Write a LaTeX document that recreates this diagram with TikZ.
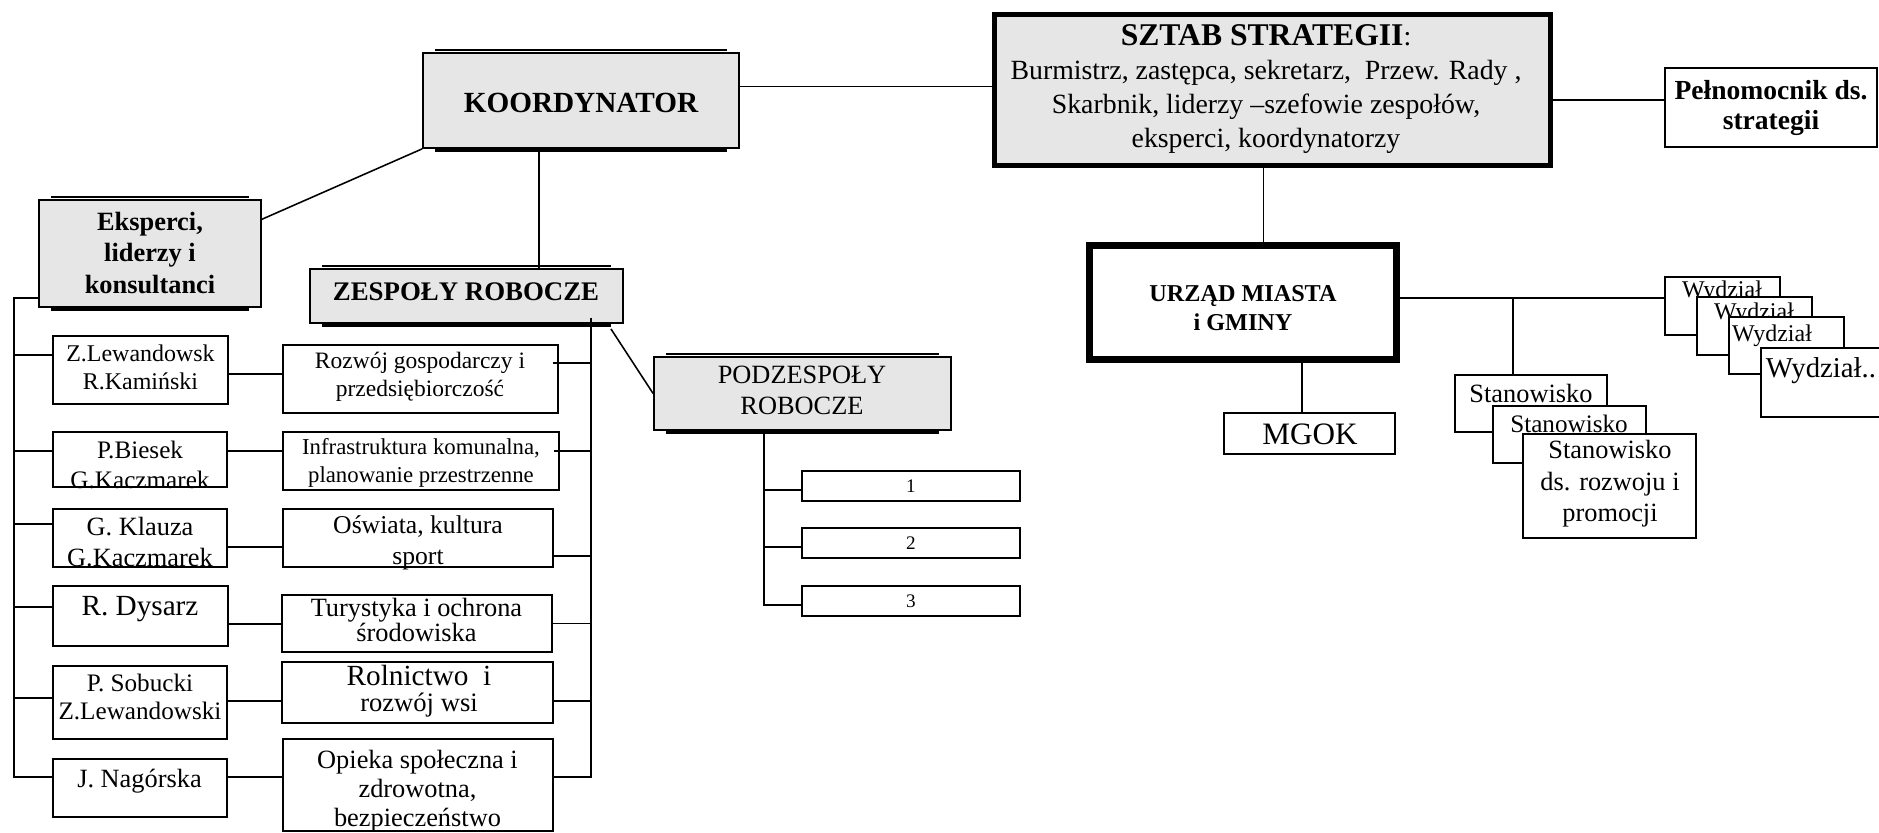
\documentclass[tikz,border=0pt]{standalone}
\usepackage{fontspec}
\setmainfont{Liberation Serif}
\usetikzlibrary{fit,calc}
\definecolor{boxgray}{RGB}{230,230,230}
\newcommand\fsz[2]{\fontsize{#1}{#2}\selectfont}
% raised edge above and heavy edge below a shaded box
\newcommand\bevelbox[1]{%
  \draw[line width=0.5pt] ([shift={(13,-2)}]#1.north west) -- ([shift={(-13,-2)}]#1.north east);
  \draw[line width=1.3pt] ([shift={(13,2)}]#1.south west) -- ([shift={(-13,2)}]#1.south east);}
\tikzset{
  box/.style={draw, line width=0.85pt, fill=white, inner sep=0pt},
  topicbox/.style={box, line width=1pt},
  shaded/.style={box, fill=boxgray, line width=0.75pt},
  lbl/.style={inner sep=0pt, align=center},
  conn/.style={line width=0.65pt},
}
\begin{document}
\begin{tikzpicture}[x=0.4172pt, y=-0.4172pt]
\useasboundingbox (0,0) rectangle (1879,833);

% ---------- strategy staff and its delegate ----------
\node[box, line width=2.1pt, fill=boxgray, fit={(994.5,14.5) (1550.5,165.5)}] (sztab) {};
\node[lbl, font=\fsz{11.6}{14.2}] (sztab-t) at (1266,89)
  {{\fsz{13.2}{14.2}\bfseries SZTAB STRATEGII}:\\
   Burmistrz, zastępca, sekretarz,\ \ Przew. Rady~,\\
   Skarbnik, liderzy –szefowie zespołów,\\
   eksperci, koordynatorzy};

\node[box, fit={(1665,68) (1877,147)}] (peln) {};
\node[lbl, font=\fsz{11.5}{12.5}\bfseries] (peln-t) at (1771,108) {Pełnomocnik ds.\\ strategii};

% ---------- coordinator branch ----------
\node[shaded, fit={(423,53) (739,148)}] (koord) {};
\bevelbox{koord}
\node[lbl, font=\fsz{12.2}{14}\bfseries] (koord-t) at (581,103) {KOORDYNATOR};

\node[shaded, fit={(39,200) (261,307)}] (eksp) {};
\bevelbox{eksp}
\node[lbl, font=\fsz{11}{13}\bfseries] (eksp-t) at (150,253) {Eksperci,\\ liderzy i\\ konsultanci};

\node[shaded, fit={(310,269) (623,323)}] (zesp) {};
\bevelbox{zesp}
\node[lbl, font=\fsz{11.2}{13}\bfseries] (zesp-t) at (466,292) {ZESPOŁY ROBOCZE};

\node[shaded, fit={(654,357) (951,430)}] (podz) {};
\bevelbox{podz}
\node[lbl, font=\fsz{11}{12.9}] (podz-t) at (802,390.5) {PODZESPOŁY\\ ROBOCZE};

\node[topicbox, fit={(802,471) (1020,501)}] (sub1) {};
\node[lbl, font=\fsz{8}{9}] (sub1-t) at (sub1.center) {1};
\node[topicbox, fit={(802,528) (1020,558)}] (sub2) {};
\node[lbl, font=\fsz{8}{9}] (sub2-t) at (sub2.center) {2};
\node[topicbox, fit={(802,586) (1020,616)}] (sub3) {};
\node[lbl, font=\fsz{8}{9}] (sub3-t) at (sub3.center) {3};

% people
\node[box, fit={(53,336) (228,404)}] (p1) {};
\node[lbl, font=\fsz{10}{11.7}] (p1-t) at (140.5,367) {Z.Lewandowsk\\ R.Kamiński};
\node[box, fit={(53,432) (227,487)}] (p2) {};
\node[lbl, font=\fsz{10.5}{12.5}] (p2-t) at (140,465) {P.Biesek\\ G.Kaczmarek};
\node[box, fit={(53,509) (227,567)}] (p3) {};
\node[lbl, font=\fsz{11}{13}] (p3-t) at (140,542) {G. Klauza\\ G.Kaczmarek};
\node[box, fit={(53,586) (228,646)}] (p4) {};
\node[lbl, font=\fsz{12.2}{14}] (p4-t) at (140,609) {R. Dysarz};
\node[box, fit={(53,666) (227,739)}] (p5) {};
\node[lbl, font=\fsz{10.5}{11.7}] (p5-t) at (140,697) {P. Sobucki\\ Z.Lewandowski};
\node[box, fit={(53,759) (227,817)}] (p6) {};
\node[lbl, font=\fsz{11}{13}] (p6-t) at (139.5,781) {J. Nagórska};

% working-group topics
\node[topicbox, fit={(283,345) (558,413)}] (t1) {};
\node[lbl, font=\fsz{9.8}{11.7}] (t1-t) at (420,377) {Rozwój gospodarczy i\\ przedsiębiorczość};
\node[topicbox, fit={(283,432) (559,490)}] (t2) {};
\node[lbl, font=\fsz{9.5}{11.7}] (t2-t) at (421,463) {Infrastruktura komunalna,\\ planowanie przestrzenne};
\node[topicbox, fit={(283,509) (553,567)}] (t3) {};
\node[lbl, font=\fsz{10.7}{13}] (t3-t) at (418,543) {Oświata, kultura\\ sport};
\node[topicbox, fit={(282,595) (552,652)}] (t4) {};
\node[lbl, font=\fsz{11}{10.4}] (t4-t) at (416.5,620) {Turystyka i ochrona\\ środowiska};
\node[topicbox, fit={(282,662) (553,723)}] (t5) {};
\node[lbl, font=\fsz{11.1}{10.8}] (t5-t) at (419,691) {{\fsz{12.2}{10.8}Rolnictwo\ \ i}\\ rozwój wsi};
\node[topicbox, fit={(283,739) (553,831)}] (t6) {};
\node[lbl, font=\fsz{11}{12.2}] (t6-t) at (417.5,791) {Opieka społeczna i\\ zdrowotna,\\ bezpieczeństwo};

% ---------- town office branch ----------
\node[box, line width=2.9pt, fit={(1089.5,245.5) (1396.5,359.5)}] (urzad) {};
\node[lbl, font=\fsz{10.1}{12}\bfseries] (urzad-t) at (1243,308) {URZĄD MIASTA\\ i GMINY};

\node[box, fit={(1224,413) (1395,454)}] (mgok) {};
\node[lbl, font=\fsz{13}{15}] (mgok-t) at (1310,434) {MGOK};

\node[box, fit={(1455,375) (1607,432)}] (s1) {};
\node[lbl, font=\fsz{11}{13}] (s1-t) at (1531,393) {Stanowisko};
\node[box, fit={(1493,406) (1646,463)}] (s2) {};
\node[lbl, font=\fsz{10.5}{12}] (s2-t) at (1569,424) {Stanowisko};
\node[box, fit={(1523,434) (1696,538)}] (s3) {};
\node[lbl, font=\fsz{11}{13.2}] (s3-t) at (1610,484) {Stanowisko\\ ds. rozwoju i\\ promocji};

\node[box, fit={(1665,277) (1780,335)}] (w1) {};
\node[lbl, font=\fsz{10}{12}] (w1-t) at (1722,292) {Wydział};
\node[box, fit={(1697,297) (1812,355)}] (w2) {};
\node[lbl, font=\fsz{10}{12}] (w2-t) at (1754,314) {Wydział};
\node[box, fit={(1729,317) (1844,374)}] (w3) {};
\node[lbl, font=\fsz{10}{12}] (w3-t) at (1772,336) {Wydział};
\node[box, fit={(1761,348) (1885,417)}] (w4) {};
\node[lbl, font=\fsz{12}{14}] (w4-t) at (1821,371) {Wydział..};

% ---------- connectors ----------
\coordinate (k2s) at ([yshift=5.8pt]koord.east);
\draw[conn] (k2s) -- (k2s -| sztab.west);
\coordinate (s2p) at ([yshift=3.1pt]peln.west);
\draw[conn] (s2p) -- (s2p -| sztab.east);
\draw[conn] (eksp.17.8) -- (koord.south west);
\coordinate (kzs) at ([xshift=-17.5pt]koord.south);
\draw[conn] (kzs) -- (kzs |- zesp.north);
\draw[conn] ([xshift=-5.4pt,yshift=-2.1pt]zesp.south east) -- (podz.west);

% subgroups
\coordinate (pv) at ([xshift=-16.1pt]podz.south);
\coordinate (b1) at ([yshift=-1.7pt]sub1.west);
\coordinate (b2) at ([yshift=-1.7pt]sub2.west);
\coordinate (b3) at ([yshift=-1.7pt]sub3.west);
\draw[conn] (pv) -- (pv |- b3) -- (b3);
\draw[conn] (b1) -- (b1 -| pv);
\draw[conn] (b2) -- (b2 -| pv);

% people column spine
\coordinate (ek) at ([yshift=-18.6pt]eksp.west);
\coordinate (lsp) at ([xshift=-10pt]ek);
\coordinate (q1) at ([yshift=6.3pt]p1.west);
\coordinate (q2) at ([yshift=3.5pt]p2.west);
\coordinate (q3) at ([yshift=5.8pt]p3.west);
\coordinate (q4) at ([yshift=3.8pt]p4.west);
\coordinate (q5) at ([yshift=1.9pt]p5.west);
\coordinate (q6) at ([yshift=4.6pt]p6.west);
\draw[conn] (ek) -- (lsp) -- (lsp |- q6) -- (q6);
\foreach \q in {q1,q2,q3,q4,q5} \draw[conn] (\q) -- (\q -| lsp);

% people to topics
\coordinate (c1) at ([yshift=-1.7pt]p1.east);
\coordinate (c2) at ([yshift=3.5pt]p2.east);
\coordinate (c3) at ([yshift=-3.8pt]p3.east);
\coordinate (c4) at ([yshift=-3.3pt]p4.east);
\coordinate (c5) at ([yshift=0.6pt]p5.east);
\coordinate (c6) at ([yshift=4.6pt]p6.east);
\draw[conn] (c1) -- (c1 -| t1.west);
\draw[conn] (c2) -- (c2 -| t2.west);
\draw[conn] (c3) -- (c3 -| t3.west);
\draw[conn] (c4) -- (c4 -| t4.west);
\draw[conn] (c5) -- (c5 -| t5.west);
\draw[conn] (c6) -- (c6 -| t6.west);

% topics spine
\coordinate (zsp) at ([xshift=51.9pt,yshift=2.5pt]zesp.south);
\coordinate (r1) at ([xshift=-2.5pt,yshift=6.7pt]t1.east);
\coordinate (r2) at ([xshift=-2.5pt,yshift=4.2pt]t2.east);
\coordinate (r3) at ([xshift=-0.8pt,yshift=-7.5pt]t3.east);
\coordinate (r4) at (t4.east);
\coordinate (r5) at ([yshift=-3.5pt]t5.east);
\coordinate (r6) at ([yshift=3.3pt]t6.east);
\draw[conn] (zsp) -- (zsp |- r6) -- (r6);
\foreach \r in {r1,r2,r3,r4,r5} \draw[conn] (\r) -- (\r -| zsp);

% town office
\coordinate (su) at ([xshift=-3.75pt]sztab.south);
\draw[conn] (su) -- (su |- urzad.north);
\coordinate (um) at ([xshift=24.6pt]urzad.south);
\draw[conn] (um) -- (um |- mgok.north);
\coordinate (uw) at ([yshift=1.9pt]urzad.east);
\draw[conn] (uw) -- (uw -| w1.west);
\coordinate (bs) at ([xshift=-7.5pt]s1.north);
\draw[conn] (bs) -- (bs |- uw);
\end{tikzpicture}
\end{document}
